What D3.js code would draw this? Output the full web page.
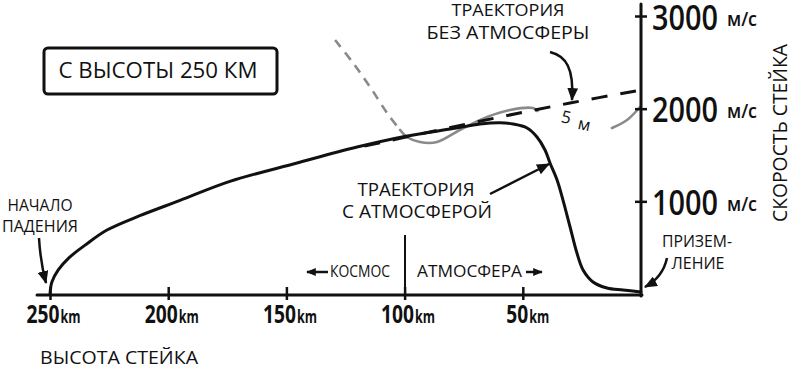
<!DOCTYPE html>
<html><head><meta charset="utf-8">
<script src="https://cdn.jsdelivr.net/npm/d3@7"></script>
<style>
html,body{margin:0;padding:0;background:#fff;}
svg{display:block;}
text{font-family:"Open Sans","Noto Sans",sans-serif;fill:#111;}
</style></head><body>
<svg id="c" width="790" height="368"></svg>
<script>
// ---- data ----
const altTicks = [250, 200, 150, 100, 50];
const velTicks = [1000, 2000, 3000];

// with atmosphere (altitude km, speed m/s)
const withAtmAlt = [250, 249.2, 246.5, 242.0, 235.0, 225.9, 212.0, 195.0, 173.9, 145.5, 120.1, 100.0, 79.5, 68.1, 59.6, 54.1, 48.2, 44.0, 40.6, 38.5, 35.5, 33.0, 30.0, 27.1, 24.5, 20.3, 14.4, 7.6, 0];
const withAtmVel = [0, 130, 260, 390, 530, 690, 845, 1010, 1215, 1414, 1586, 1700, 1785, 1835, 1849, 1834, 1791, 1694, 1554, 1414, 1230, 1014, 723, 442, 259, 130, 65, 43, 22];

// without atmosphere
const noAtmAlt = [117, 89.3, 59.6, 30, 0];
const noAtmVel = [1597, 1748, 1910, 2061, 2201];

// grey comparison line
const greyDashAlt = [129.4, 121.8, 114.6, 107.4, 101.9];
const greyDashVel = [2741, 2493, 2234, 1953, 1770];
const greyAAlt = [101.9, 99.0, 93.5, 86.3, 76.6, 65.1, 55.4, 45.7, 43.8];
const greyAVel = [1770, 1694, 1640, 1640, 1770, 1910, 1986, 2007, 1975];
const greyBAlt = [12.3, 5.9, 0.4];
const greyBVel = [1791, 1878, 2018];

// ---- drawing ----
const svg = d3.select("#c");
const x = d3.scaleLinear().domain([250, 0]).range([50, 641]);
const y = d3.scaleLinear().domain([0, 3000]).range([294, 16]);

const defs = svg.append("defs");
defs.append("marker").attr("id", "ah").attr("markerUnits", "userSpaceOnUse")
  .attr("viewBox", "0 0 12 10").attr("refX", 11).attr("refY", 5)
  .attr("markerWidth", 13).attr("markerHeight", 11).attr("orient", "auto")
  .append("path").attr("d", "M0,0 L12,5 L0,10 Z").attr("fill", "#111");
defs.append("marker").attr("id", "ahs").attr("markerUnits", "userSpaceOnUse")
  .attr("viewBox", "0 0 12 10").attr("refX", 11).attr("refY", 5)
  .attr("markerWidth", 10).attr("markerHeight", 8).attr("orient", "auto")
  .append("path").attr("d", "M0,0 L12,5 L0,10 Z").attr("fill", "#111");

const zip = (a, v) => a.map((d, i) => [d, v[i]]);
const lineC = d3.line().x(d => x(d[0])).y(d => y(d[1])).curve(d3.curveCatmullRom.alpha(0.5));

// grey
svg.append("path").attr("d", lineC(zip(greyDashAlt, greyDashVel)))
  .attr("fill", "none").attr("stroke", "#8a8a8a").attr("stroke-width", 2.6)
  .attr("stroke-dasharray", "9,7");
svg.append("path").attr("d", lineC(zip(greyAAlt, greyAVel)))
  .attr("fill", "none").attr("stroke", "#8a8a8a").attr("stroke-width", 2.6).attr("stroke-linecap", "round");
svg.append("path").attr("d", lineC(zip(greyBAlt, greyBVel)))
  .attr("fill", "none").attr("stroke", "#8a8a8a").attr("stroke-width", 2.6).attr("stroke-linecap", "round");

// with atmosphere
svg.append("path").attr("d", lineC(zip(withAtmAlt, withAtmVel)))
  .attr("fill", "none").attr("stroke", "#111").attr("stroke-width", 3).attr("stroke-linecap", "round").attr("stroke-linejoin", "round");

// without atmosphere
svg.append("path").attr("d", lineC(zip(noAtmAlt, noAtmVel)))
  .attr("fill", "none").attr("stroke", "#111").attr("stroke-width", 3)
  .attr("stroke-dasharray", "16,13");

// x axis
const xAxis = d3.axisBottom(x).tickValues(altTicks).tickSize(0).tickFormat("");
const gx = svg.append("g").attr("transform", "translate(0,295)").call(xAxis);
gx.select(".domain").remove();
gx.selectAll(".tick line").attr("y1", -8).attr("y2", 5).attr("stroke", "#111").attr("stroke-width", 2.5);
svg.append("line").attr("x1", 37).attr("x2", x(0) + 1).attr("y1", 295).attr("y2", 295)
  .attr("stroke", "#111").attr("stroke-width", 3).attr("stroke-linecap", "round");
gx.selectAll(".tick").each(function(d) {
  const g = d3.select(this);
  const w = d >= 100 ? 33 : 22;
  const x0 = d >= 100 ? -24 : -17;
  g.append("text").attr("y", 28).attr("x", x0).text(d).attr("text-anchor", "start")
    .style("font-size", "25px").style("font-weight", 700)
    .attr("textLength", w).attr("lengthAdjust", "spacingAndGlyphs");
  g.append("text").attr("y", 28).attr("x", x0 + w + 1).text("km").attr("text-anchor", "start")
    .style("font-size", "17px").style("font-weight", 700)
    .attr("textLength", 20).attr("lengthAdjust", "spacingAndGlyphs");
});

// y axis (right)
const yAxis = d3.axisRight(y).tickValues(velTicks).tickSize(0).tickFormat("");
const gy = svg.append("g").attr("transform", "translate(641,0)").call(yAxis);
gy.select(".domain").remove();
gy.selectAll(".tick line").attr("x1", -6).attr("x2", 6).attr("stroke", "#111").attr("stroke-width", 2.5);
svg.append("line").attr("x1", 641).attr("x2", 641).attr("y1", 4).attr("y2", 296)
  .attr("stroke", "#111").attr("stroke-width", 3).attr("stroke-linecap", "round");
gy.selectAll(".tick").each(function(d) {
  const g = d3.select(this);
  g.append("text").attr("x", 11).attr("y", 13).text(d).attr("text-anchor", "start")
    .style("font-size", "34px").style("font-weight", 600)
    .attr("textLength", 66).attr("lengthAdjust", "spacingAndGlyphs");
  g.append("text").attr("x", 86).attr("y", 9).text("м/с").attr("text-anchor", "start")
    .style("font-size", "20px").style("font-weight", 600)
    .attr("textLength", 30).attr("lengthAdjust", "spacingAndGlyphs");
});

// helper for labels
function label(txt, xx, yy, size, len, anchor, extra) {
  const t = svg.append("text").attr("x", xx).attr("y", yy).text(txt)
    .attr("text-anchor", anchor || "middle").style("font-size", size + "px");
  if (len) t.attr("textLength", len).attr("lengthAdjust", "spacingAndGlyphs");
  if (extra) extra(t);
  return t;
}

// axis titles
label("ВЫСОТА СТЕЙКА", 40, 364, 18, 158, "start");
label("СКОРОСТЬ СТЕЙКА", 0, 0, 20, 178, "middle",
  t => t.attr("transform", "translate(787,133) rotate(-90)"));

// box
svg.append("rect").attr("x", 44).attr("y", 48).attr("width", 233).attr("height", 46).attr("rx", 4)
  .attr("fill", "none").attr("stroke", "#111").attr("stroke-width", 3);
label("С ВЫСОТЫ 250 КМ", 158, 78, 21, 199);

// annotations
label("ТРАЕКТОРИЯ", 508, 16, 17, 113);
label("БЕЗ АТМОСФЕРЫ", 508, 39, 18, 163);
svg.append("path").attr("d", "M550,52 C566,56 574,68 572,100").attr("fill", "none")
  .attr("stroke", "#111").attr("stroke-width", 2.5).attr("marker-end", "url(#ah)");

label("ТРАЕКТОРИЯ", 416, 196, 18, 117);
label("С АТМОСФЕРОЙ", 417, 218, 18, 150);
svg.append("path").attr("d", "M490,194 L549,164").attr("fill", "none")
  .attr("stroke", "#111").attr("stroke-width", 2.5).attr("marker-end", "url(#ah)");

label("НАЧАЛО", 40, 211, 17, 65);
label("ПАДЕНИЯ", 40, 232, 17, 76);
svg.append("path").attr("d", "M39,238 C40,255 42,268 46,283").attr("fill", "none")
  .attr("stroke", "#111").attr("stroke-width", 2.5).attr("marker-end", "url(#ah)");

label("ПРИЗЕМ-", 697, 247, 17, 70);
label("ЛЕНИЕ", 698, 269, 17, 53);
svg.append("path").attr("d", "M667,258 C664,272 656,281 645,287").attr("fill", "none")
  .attr("stroke", "#111").attr("stroke-width", 2.5).attr("marker-end", "url(#ah)");

// space / atmosphere divider
svg.append("line").attr("x1", 405).attr("x2", 405).attr("y1", 235).attr("y2", 296)
  .attr("stroke", "#111").attr("stroke-width", 2);
label("КОСМОС", 330, 277, 16, 60, "start");
label("АТМОСФЕРА", 417, 277, 16, 105, "start");
svg.append("line").attr("x1", 328).attr("x2", 307).attr("y1", 272).attr("y2", 272)
  .attr("stroke", "#111").attr("stroke-width", 2.5).attr("marker-end", "url(#ahs)");
svg.append("line").attr("x1", 526).attr("x2", 542).attr("y1", 272).attr("y2", 272)
  .attr("stroke", "#111").attr("stroke-width", 2.5).attr("marker-end", "url(#ahs)");

// 5 m
label("5", 0, 0, 17, null, "middle", t => t.attr("transform", "translate(565,123) rotate(12)"));
label("м", 0, 0, 17, null, "middle", t => t.attr("transform", "translate(583,130) rotate(12)"));
</script>
</body></html>
